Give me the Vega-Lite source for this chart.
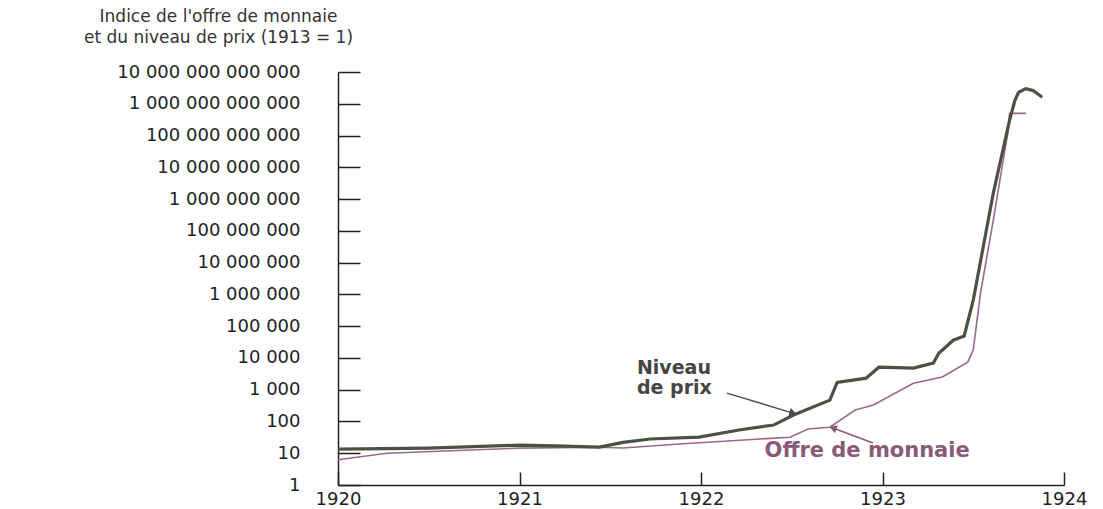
{
  "$schema": "https://vega.github.io/schema/vega-lite/v6.json",
  "width": 726,
  "height": 413,
  "autosize": {"type": "none"},
  "padding": {"left": 338, "top": 72, "right": 39, "bottom": 24},
  "background": "white",
  "config": {
    "view": {"stroke": null},
    "locale": {"number": {"decimal": ",", "thousands": " ", "grouping": [3], "currency": ["", " €"]}},
    "font": "DejaVu Sans"
  },
  "datasets": {
    "prix": [
      {"t": 1920.0, "v": 13.5}, {"t": 1920.5, "v": 14.5}, {"t": 1921.0, "v": 18},
      {"t": 1921.2, "v": 17}, {"t": 1921.44, "v": 15.6}, {"t": 1921.57, "v": 22},
      {"t": 1921.72, "v": 28}, {"t": 1921.99, "v": 32}, {"t": 1922.21, "v": 54},
      {"t": 1922.4, "v": 77}, {"t": 1922.51, "v": 160}, {"t": 1922.71, "v": 470},
      {"t": 1922.75, "v": 1700}, {"t": 1922.91, "v": 2300}, {"t": 1922.98, "v": 5100},
      {"t": 1923.17, "v": 4800}, {"t": 1923.28, "v": 6900}, {"t": 1923.31, "v": 14000},
      {"t": 1923.39, "v": 36000}, {"t": 1923.45, "v": 49000}, {"t": 1923.5, "v": 660000},
      {"t": 1923.61, "v": 1500000000}, {"t": 1923.7, "v": 300000000000},
      {"t": 1923.73, "v": 1300000000000}, {"t": 1923.75, "v": 2300000000000},
      {"t": 1923.79, "v": 3000000000000}, {"t": 1923.83, "v": 2600000000000},
      {"t": 1923.88, "v": 1600000000000}
    ],
    "monnaie": [
      {"t": 1920.0, "v": 6.2}, {"t": 1920.27, "v": 10}, {"t": 1921.0, "v": 14.5},
      {"t": 1921.44, "v": 15.5}, {"t": 1921.57, "v": 14.6}, {"t": 1921.88, "v": 19.5},
      {"t": 1922.49, "v": 32}, {"t": 1922.59, "v": 58}, {"t": 1922.71, "v": 66},
      {"t": 1922.85, "v": 230}, {"t": 1922.95, "v": 330}, {"t": 1923.17, "v": 1600},
      {"t": 1923.33, "v": 2500}, {"t": 1923.47, "v": 7400}, {"t": 1923.5, "v": 18000},
      {"t": 1923.54, "v": 1100000}, {"t": 1923.61, "v": 210000000},
      {"t": 1923.69, "v": 120000000000}, {"t": 1923.7, "v": 500000000000},
      {"t": 1923.79, "v": 500000000000}
    ],
    "labelsPrix": [
      {"t": 1921.647, "v": 4800, "txt": "Niveau"},
      {"t": 1921.647, "v": 1120, "txt": "de prix"}
    ],
    "labelsMonnaie": [
      {"t": 1922.35, "v": 12, "txt": "Offre de monnaie"}
    ],
    "arrows": [
      {"t": 1922.143, "v": 780, "t2": 1922.507, "v2": 183, "s": "prix", "ang": 17},
      {"t": 1922.948, "v": 21, "t2": 1922.727, "v2": 62, "s": "monnaie", "ang": 200}
    ]
  },
  "layer": [
    {
      "data": {"name": "monnaie"},
      "mark": {"type": "line", "color": "#9a6a88", "strokeWidth": 1.6},
      "encoding": {
        "x": {
          "field": "t", "type": "quantitative",
          "scale": {"domain": [1920, 1924], "nice": false, "zero": false},
          "axis": {
            "values": [1920, 1921, 1922, 1923, 1924], "format": "d", "title": null,
            "grid": false, "domainColor": "#222", "domainWidth": 1.5,
            "tickColor": "#222", "tickWidth": 1.5, "tickSize": -13,
            "labelFlush": false, "labelPadding": 18, "labelFontSize": 18,
            "labelColor": "#222", "labelFont": "DejaVu Sans"
          }
        },
        "y": {
          "field": "v", "type": "quantitative",
          "scale": {"type": "log", "domain": [1, 10000000000000], "nice": false},
          "axis": {
            "values": [1, 10, 100, 1000, 10000, 100000, 1000000, 10000000, 100000000, 1000000000, 10000000000, 100000000000, 1000000000000, 10000000000000],
            "format": ",d", "grid": false, "domainColor": "#222", "domainWidth": 1.5,
            "tickColor": "#222", "tickWidth": 1.5, "tickSize": -22,
            "labelPadding": 60, "labelFontSize": 18, "labelColor": "#222",
            "labelFont": "DejaVu Sans", "labelLimit": 400, "labelFlush": false,
            "title": ["Indice de l'offre de monnaie", "et du niveau de prix (1913 = 1)"],
            "titleAngle": 0, "titleAlign": "center", "titleBaseline": "top",
            "titleX": -120, "titleY": -64, "titleFontSize": 17, "titleFontWeight": "normal",
            "titleColor": "#333", "titleLineHeight": 21, "titleFont": "DejaVu Sans"
          }
        }
      }
    },
    {
      "data": {"name": "prix"},
      "mark": {"type": "line", "color": "#4a5244", "strokeWidth": 3.2},
      "encoding": {
        "x": {"field": "t", "type": "quantitative"},
        "y": {"field": "v", "type": "quantitative"}
      }
    },
    {
      "data": {"name": "arrows"},
      "mark": {"type": "rule", "strokeWidth": 1.5},
      "encoding": {
        "x": {"field": "t", "type": "quantitative"},
        "y": {"field": "v", "type": "quantitative"},
        "x2": {"field": "t2"},
        "y2": {"field": "v2"},
        "color": {"field": "s", "type": "nominal", "scale": {"domain": ["prix", "monnaie"], "range": ["#4a4a4a", "#8a5a78"]}, "legend": null}
      }
    },
    {
      "data": {"name": "arrows"},
      "mark": {"type": "point", "shape": "triangle-right", "filled": true, "size": 70, "opacity": 1},
      "encoding": {
        "x": {"field": "t2", "type": "quantitative"},
        "y": {"field": "v2", "type": "quantitative"},
        "angle": {"field": "ang", "type": "quantitative", "scale": null},
        "color": {"field": "s", "type": "nominal", "legend": null}
      }
    },
    {
      "data": {"name": "labelsPrix"},
      "mark": {"type": "text", "align": "left", "baseline": "middle", "fontSize": 19, "fontWeight": "bold", "font": "DejaVu Sans", "color": "#454545"},
      "encoding": {
        "x": {"field": "t", "type": "quantitative"},
        "y": {"field": "v", "type": "quantitative"},
        "text": {"field": "txt"}
      }
    },
    {
      "data": {"name": "labelsMonnaie"},
      "mark": {"type": "text", "align": "left", "baseline": "middle", "fontSize": 21, "fontWeight": "bold", "font": "DejaVu Sans", "color": "#8a5a78"},
      "encoding": {
        "x": {"field": "t", "type": "quantitative"},
        "y": {"field": "v", "type": "quantitative"},
        "text": {"field": "txt"}
      }
    }
  ]
}
